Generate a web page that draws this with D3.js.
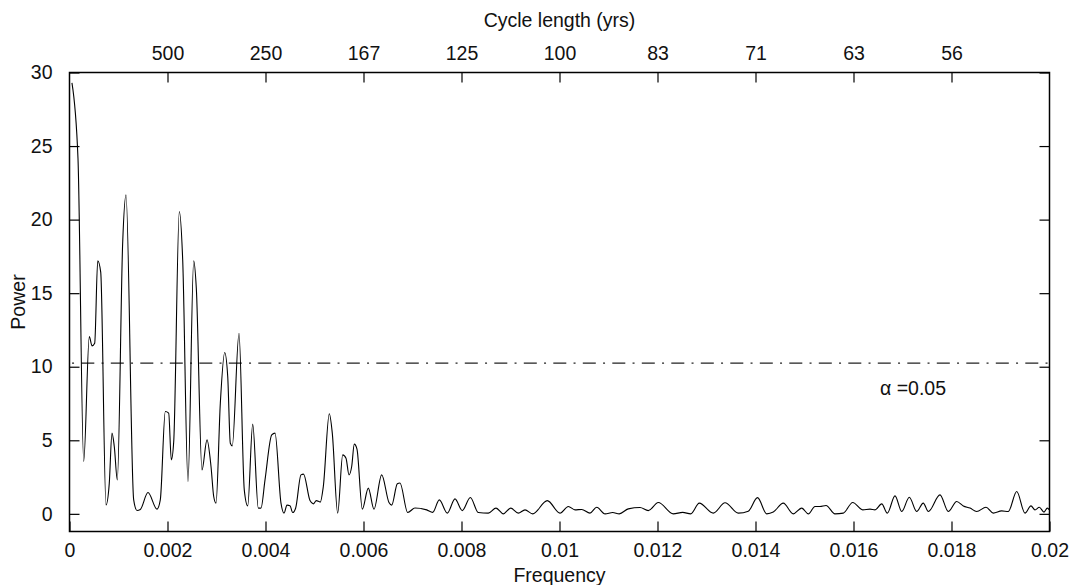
<!DOCTYPE html>
<html>
<head>
<meta charset="utf-8">
<script src="https://cdn.jsdelivr.net/npm/d3@7"></script>
<style>
  html, body { margin: 0; padding: 0; background: #fff; }
  svg text { font-family: "Liberation Sans", Arial, Helvetica, sans-serif; fill: #111; }
</style>
</head>
<body>
<div id="chart"></div>
<script>
// spectrum (frequency, power)
const freq = [
  0.00005, 0.000173, 0.00029, 0.000404, 0.000459, 0.000514, 0.000576, 0.000637,
  0.000745, 0.000812, 0.000867, 0.000914, 0.000976, 0.001086, 0.001153, 0.00131,
  0.001378, 0.001445, 0.001602, 0.001786, 0.001853, 0.001955, 0.002024, 0.002078,
  0.002127, 0.002241, 0.00231, 0.002418, 0.002535, 0.002588, 0.002704, 0.002806,
  0.002888, 0.002943, 0.00299, 0.003078, 0.003167, 0.003229, 0.003282, 0.003322,
  0.003459, 0.003567, 0.003637, 0.003739, 0.003853, 0.003908, 0.00399, 0.004127,
  0.004194, 0.004316, 0.004378, 0.004439, 0.0045, 0.004555, 0.004616, 0.004724,
  0.004776, 0.004908, 0.004976, 0.005037, 0.005118, 0.00518, 0.005302, 0.005363,
  0.005473, 0.005576, 0.005643, 0.005704, 0.005759, 0.005812, 0.005867, 0.005976,
  0.006098, 0.006214, 0.006371, 0.00652, 0.006576, 0.00669, 0.006745, 0.006902,
  0.007051, 0.00729, 0.007412, 0.007547, 0.00771, 0.007867, 0.008016, 0.00818,
  0.008343, 0.008547, 0.008704, 0.008853, 0.009004, 0.009159, 0.009296, 0.009453,
  0.009751, 0.01001, 0.01018, 0.010316, 0.010453, 0.010622, 0.010759, 0.010929,
  0.011086, 0.01122, 0.011404, 0.011643, 0.011812, 0.012016, 0.012322, 0.012514,
  0.012678, 0.012853, 0.013139, 0.013378, 0.013649, 0.013853, 0.014041, 0.014229,
  0.014363, 0.014567, 0.014771, 0.014943, 0.015078, 0.015214, 0.015316, 0.015439,
  0.015622, 0.015792, 0.015984, 0.016188, 0.016337, 0.016439, 0.016576, 0.01669,
  0.016847, 0.016984, 0.017139, 0.01729, 0.017424, 0.017527, 0.017765, 0.017935,
  0.018106, 0.018241, 0.018378, 0.018514, 0.018704, 0.018853, 0.019024, 0.019159,
  0.019331, 0.0195, 0.019622, 0.019704, 0.019792, 0.019888, 0.019955, 0.02
];
const power = [
  29.3, 24.18, 3.56, 12.05, 11.42, 11.6, 17.2, 16.43,
  0.61, 2.09, 5.49, 4.58, 2.31, 18.5, 21.69, 0.95,
  0.23, 0.3, 1.45, 0.32, 0.95, 6.96, 6.85, 3.67,
  4.92, 20.55, 17.27, 2.2, 17.2, 15.34, 2.99, 5.03,
  3.22, 1.18, 0.73, 7.52, 10.97, 9.33, 4.8, 4.62,
  12.28, 1.63, 0.54, 6.1, 0.39, 0.39, 2.31, 5.37,
  5.49, 0.73, 0.05, 0.59, 0.55, 0.09, 0.4, 2.65,
  2.7, 0.9, 0.68, 0.9, 0.8, 1.86, 6.8, 5.49,
  0.05, 4.01, 3.78, 2.65, 3.22, 4.74, 4.4, 0.32,
  1.75, 0.32, 2.65, 0.77, 0.59, 2.04, 2.1, 0.09,
  0.4, 0.27, 0.1, 0.95, 0.05, 1.02, 0.22, 1.11,
  0.09, 0.05, 0.39, 0.0, 0.39, 0.05, 0.27, 0.0,
  0.9, 0.05, 0.5, 0.27, 0.3, 0.05, 0.45, 0.0,
  0.09, 0.0, 0.34, 0.43, 0.22, 0.77, 0.0, 0.1,
  0.0, 0.73, 0.05, 0.75, 0.05, 0.18, 1.1, 0.0,
  0.12, 0.73, 0.0, 0.39, 0.0, 0.5, 0.5, 0.57,
  0.0, 0.05, 0.77, 0.27, 0.32, 0.27, 0.68, 0.05,
  1.22, 0.16, 1.13, 0.16, 0.73, 0.16, 1.29, 0.16,
  0.84, 0.54, 0.39, 0.16, 0.45, 0.05, 0.2, 0.16,
  1.52, 0.05, 0.54, 0.27, 0.45, 0.12, 0.39, 0.27
];

// significance level
const alphaLevel = 10.25;
const alphaLabel = "\u03b1 =0.05";

// ticks
const xTicks = [0, 0.002, 0.004, 0.006, 0.008, 0.01, 0.012, 0.014, 0.016, 0.018, 0.02];
const xTickLabels = ["0", "0.002", "0.004", "0.006", "0.008", "0.01", "0.012", "0.014", "0.016", "0.018", "0.02"];
const topTicks = [0.002, 0.004, 0.006, 0.008, 0.01, 0.012, 0.014, 0.016, 0.018];
const topTickLabels = ["500", "250", "167", "125", "100", "83", "71", "63", "56"];
const yTicks = [0, 5, 10, 15, 20, 25, 30];

const W = 1072, H = 585;
const margin = { top: 72.5, right: 22.5, bottom: 53.5, left: 69.5 };
const fontSize = 19.5;

const svg = d3.select("#chart")
  .append("svg")
  .attr("width", W)
  .attr("height", H);

const x = d3.scaleLinear()
  .domain([0, 0.02])
  .range([margin.left, W - margin.right]);

const y = d3.scaleLinear()
  .domain([-1.2, 30])
  .range([H - margin.bottom, margin.top]);

const data = freq.map((f, i) => ({ f: f, p: power[i] }));

// significance line (dash-dot)
svg.append("line")
  .attr("x1", x(0))
  .attr("x2", x(0.02))
  .attr("y1", y(alphaLevel))
  .attr("y2", y(alphaLevel))
  .attr("stroke", "#222")
  .attr("stroke-width", 1.2)
  .attr("stroke-dasharray", "13,7.25,2,7.25")
  .attr("stroke-dashoffset", 17.7);

// spectrum line
const line = d3.line()
  .x(d => x(d.f))
  .y(d => y(d.p))
  .curve(d3.curveMonotoneX);

svg.append("path")
  .datum(data)
  .attr("d", line)
  .attr("fill", "none")
  .attr("stroke", "#000")
  .attr("stroke-width", 1.1);

// axes, all ticks pointing inwards
const tickLen = 10;
const styleAxis = g => {
  g.select(".domain").remove();
  g.selectAll(".tick line").attr("stroke", "#000").attr("stroke-width", 1.2);
  g.selectAll(".tick text")
    .attr("font-size", fontSize)
    .attr("font-family", "Liberation Sans, Arial, sans-serif")
    .attr("fill", "#111");
};

svg.append("g")
  .attr("transform", `translate(0,${H - margin.bottom})`)
  .call(d3.axisBottom(x).tickValues(xTicks)
    .tickFormat((d, i) => xTickLabels[i])
    .tickSizeInner(-tickLen).tickSizeOuter(0).tickPadding(tickLen + 2))
  .call(styleAxis);

svg.append("g")
  .attr("transform", `translate(0,${margin.top})`)
  .call(d3.axisTop(x).tickValues(topTicks)
    .tickFormat((d, i) => topTickLabels[i])
    .tickSizeInner(-tickLen).tickSizeOuter(0).tickPadding(tickLen + 3))
  .call(styleAxis);

svg.append("g")
  .attr("transform", `translate(${margin.left},0)`)
  .call(d3.axisLeft(y).tickValues(yTicks)
    .tickSizeInner(-tickLen).tickSizeOuter(0).tickPadding(tickLen + 7))
  .call(styleAxis);

svg.append("g")
  .attr("transform", `translate(${W - margin.right},0)`)
  .call(d3.axisRight(y).tickValues(yTicks)
    .tickFormat("")
    .tickSizeInner(-tickLen).tickSizeOuter(0))
  .call(styleAxis);

// frame
svg.append("rect")
  .attr("x", margin.left)
  .attr("y", margin.top)
  .attr("width", W - margin.left - margin.right)
  .attr("height", H - margin.top - margin.bottom)
  .attr("fill", "none")
  .attr("stroke", "#000")
  .attr("stroke-width", 1.5);

// labels
svg.append("text")
  .attr("x", (margin.left + W - margin.right) / 2)
  .attr("y", 27)
  .attr("text-anchor", "middle")
  .attr("font-size", fontSize)
  .text("Cycle length (yrs)");

svg.append("text")
  .attr("x", (margin.left + W - margin.right) / 2)
  .attr("y", 582)
  .attr("text-anchor", "middle")
  .attr("font-size", fontSize)
  .text("Frequency");

svg.append("text")
  .attr("transform", `translate(25,${(margin.top + H - margin.bottom) / 2}) rotate(-90)`)
  .attr("text-anchor", "middle")
  .attr("font-size", fontSize)
  .text("Power");

svg.append("text")
  .attr("x", 880)
  .attr("y", 395)
  .attr("font-size", fontSize)
  .text(alphaLabel);
</script>
</body>
</html>
